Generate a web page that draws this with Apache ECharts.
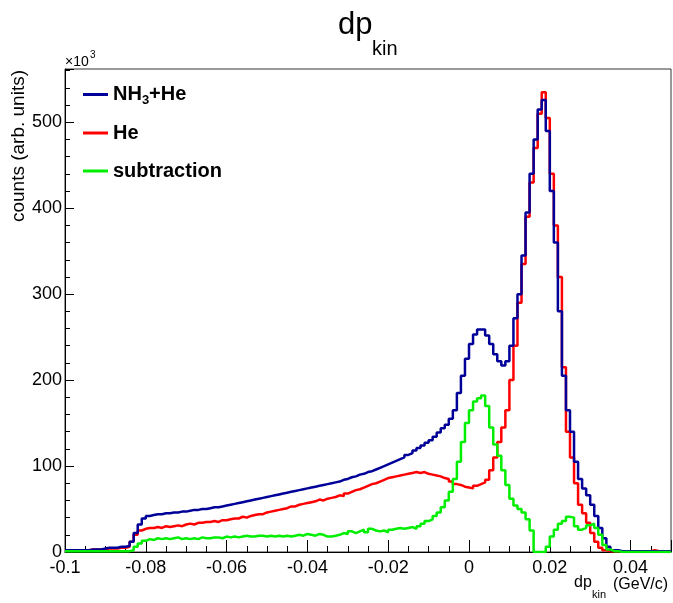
<!DOCTYPE html>
<html>
<head>
<meta charset="utf-8">
<script src="https://cdn.jsdelivr.net/npm/echarts@6/dist/echarts.min.js"></script>
<style>html,body{margin:0;padding:0;background:#fff;}#c{width:673px;height:603px;}</style>
</head>
<body>
<div id="c"></div>
<script>
// Histogram binning (x axis, GeV/c)
var binStart = -0.1;
var binWidth = 0.001;
var xTickLabels = ['-0.1','-0.08','-0.06','-0.04','-0.02','0','0.02','0.04'];
var yTickLabels = ['0','100','200','300','400','500'];
var legendNames = ['NH3+He','He','subtraction'];

// counts (x10^3) per bin
var nh3He = [
  2,2,2,2,2,2,3,3,3,4,
  5,5,5,6,6,7,12,22,32,39,
  42,43,44,44,45,45,46,46,47,47,
  48,49,49,50,50,51,52,52,53,54,
  55,56,57,58,59,60,61,62,63,64,
  65,66,67,68,69,70,71,72,73,74,
  75,76,77,78,79,80,81,82,84,85,
  87,88,90,91,93,94,96,98,100,102,
  104,106,108,110,113,115,118,121,124,127,
  130,134,139,144,148,155,165,185,205,225,
  242,253,259,259,252,242,230,222,217,222,
  240,272,300,345,395,440,480,515,526,490,
  420,360,280,205,165,140,105,85,74,66,
  55,42,28,16,6,2,2,1,1,1,
  1,1,1,1,1,1,1,1,1,1
];
var he = [
  2,2,2,2,2,2,3,3,3,3,
  4,4,4,5,5,6,12,20,25,27,
  28,28,29,28,30,29,30,31,30,32,
  33,32,34,34,35,35,36,35,37,37,
  38,39,39,41,40,42,43,44,44,46,
  47,48,49,50,51,53,53,55,56,57,
  58,59,61,60,62,63,64,66,65,68,
  70,72,73,75,77,79,80,82,84,86,
  87,88,89,90,91,92,93,92,93,91,
  90,89,88,86,85,82,79,78,76,75,
  74,77,79,81,84,95,110,128,145,165,
  200,240,290,335,390,430,470,510,535,505,
  440,380,320,215,140,110,80,55,45,34,
  22,12,5,2,1,1,1,1,1,1,
  1,1,1,1,1,2,1,1,1,1
];
var subtraction = [
  1,1,1,1,1,1,1,1,1,1,
  1,1,1,1,1,1,2,6,10,13,
  15,14,16,15,16,15,16,17,15,16,
  15,16,15,17,16,16,17,17,16,18,
  17,18,17,18,19,18,18,19,19,18,
  19,18,19,18,19,18,19,20,19,21,
  20,19,21,20,18,18,19,20,22,21,
  24,22,24,26,23,27,25,24,25,23,
  26,27,28,27,28,29,27,30,33,36,
  38,42,46,52,60,70,85,105,128,150,
  165,175,179,182,170,145,125,112,95,78,
  62,54,50,46,38,25,0,0,0,6,
  18,26,33,36,41,40,30,26,28,31,
  33,28,20,8,3,1,1,0,0,0,
  0,0,0,0,0,0,0,0,0,0
];

function histPoints(vals) {
  var pts = [];
  for (var i = 0; i < vals.length; i++) pts.push([binStart + i * binWidth, vals[i]]);
  pts.push([binStart + vals.length * binWidth, vals[vals.length - 1]]);
  return pts;
}

var FONT = '"Liberation Sans", Arial, Helvetica, sans-serif';
var chart = echarts.init(document.getElementById('c'), null, {renderer: 'canvas'});

var option = {
  animation: false,
  backgroundColor: '#ffffff',
  grid: {left: 65, right: 2, top: 69, bottom: 51, show: true, borderColor: '#333', borderWidth: 1, backgroundColor: 'transparent'},
  legend: {
    data: legendNames,
    orient: 'vertical',
    left: 78, top: 77,
    itemWidth: 25, itemHeight: 3,
    itemGap: 14,
    icon: 'rect',
    formatter: function (n) { return n === 'NH3+He' ? '{b|NH}{s|3}{b|+He}' : '{b|' + n + '}'; },
    textStyle: {
      fontFamily: FONT, fontSize: 20, fontWeight: 'bold', color: '#000', lineHeight: 24,
      rich: {
        b: {fontFamily: FONT, fontSize: 20, fontWeight: 'bold', color: '#000', lineHeight: 24},
        s: {fontFamily: FONT, fontSize: 13, fontWeight: 'bold', color: '#000', lineHeight: 24, padding: [12, 0, 0, 0]}
      }
    }
  },
  xAxis: {
    type: 'value', min: -0.1, max: 0.05, interval: 0.02,
    axisLine: {show: true, onZero: false, lineStyle: {color: '#000', width: 1}},
    axisTick: {show: true, inside: true, length: 12, lineStyle: {color: '#000'}},
    minorTick: {show: true, splitNumber: 4, length: 6, lineStyle: {color: '#000'}},
    splitLine: {show: false},
    axisLabel: {
      fontFamily: FONT, fontSize: 18, color: '#000', margin: 7, showMaxLabel: false,
      formatter: function (v) {
        var idx = Math.round((v - binStart) / 0.02);
        return xTickLabels[idx] !== undefined ? xTickLabels[idx] : '';
      }
    }
  },
  yAxis: {
    type: 'value', min: 0, max: 562, interval: 100,
    axisLine: {show: true, onZero: false, lineStyle: {color: '#000', width: 1}},
    axisTick: {show: true, inside: true, length: 9, lineStyle: {color: '#000'}},
    minorTick: {show: true, splitNumber: 5, length: 5, lineStyle: {color: '#000'}},
    splitLine: {show: false},
    axisLabel: {
      fontFamily: FONT, fontSize: 18, color: '#000', margin: 3, showMaxLabel: false,
      formatter: function (v) {
        var idx = Math.round(v / 100);
        return yTickLabels[idx] !== undefined ? yTickLabels[idx] : '';
      }
    }
  },
  series: [
    {name: 'He', type: 'line', step: 'end', data: histPoints(he), showSymbol: false, z: 2,
     lineStyle: {color: '#ff0000', width: 2.5}, itemStyle: {color: '#ff0000'}},
    {name: 'NH3+He', type: 'line', step: 'end', data: histPoints(nh3He), showSymbol: false, z: 3,
     lineStyle: {color: '#000099', width: 2.5}, itemStyle: {color: '#000099'}},
    {name: 'subtraction', type: 'line', step: 'end', data: histPoints(subtraction), showSymbol: false, z: 4,
     lineStyle: {color: '#00ee00', width: 2.5}, itemStyle: {color: '#00ee00'}}
  ],
  graphic: [
    {type: 'text', left: 338, top: 10, style: {text: 'dp', fontFamily: FONT, fontSize: 31, fill: '#000'}},
    {type: 'text', left: 372, top: 39, style: {text: 'kin', fontFamily: FONT, fontSize: 20, fill: '#000'}},
    {type: 'text', left: 65, top: 55, style: {text: '\u00d710', fontFamily: FONT, fontSize: 14, fill: '#000'}},
    {type: 'text', left: 90, top: 50, style: {text: '3', fontFamily: FONT, fontSize: 10, fill: '#000'}},
    {type: 'text', x: 19, y: 70, rotation: Math.PI / 2,
     style: {text: 'counts (arb. units)', fontFamily: FONT, fontSize: 19, fill: '#000', align: 'right', verticalAlign: 'middle'}},
    {type: 'text', left: 574, top: 575, style: {text: 'dp', fontFamily: FONT, fontSize: 16, fill: '#000'}},
    {type: 'text', left: 592, top: 589, style: {text: 'kin', fontFamily: FONT, fontSize: 11, fill: '#000'}},
    {type: 'text', left: 613, top: 577, style: {text: '(GeV/c)', fontFamily: FONT, fontSize: 16, fill: '#000'}}
  ]
};
chart.setOption(option);
</script>
</body>
</html>
